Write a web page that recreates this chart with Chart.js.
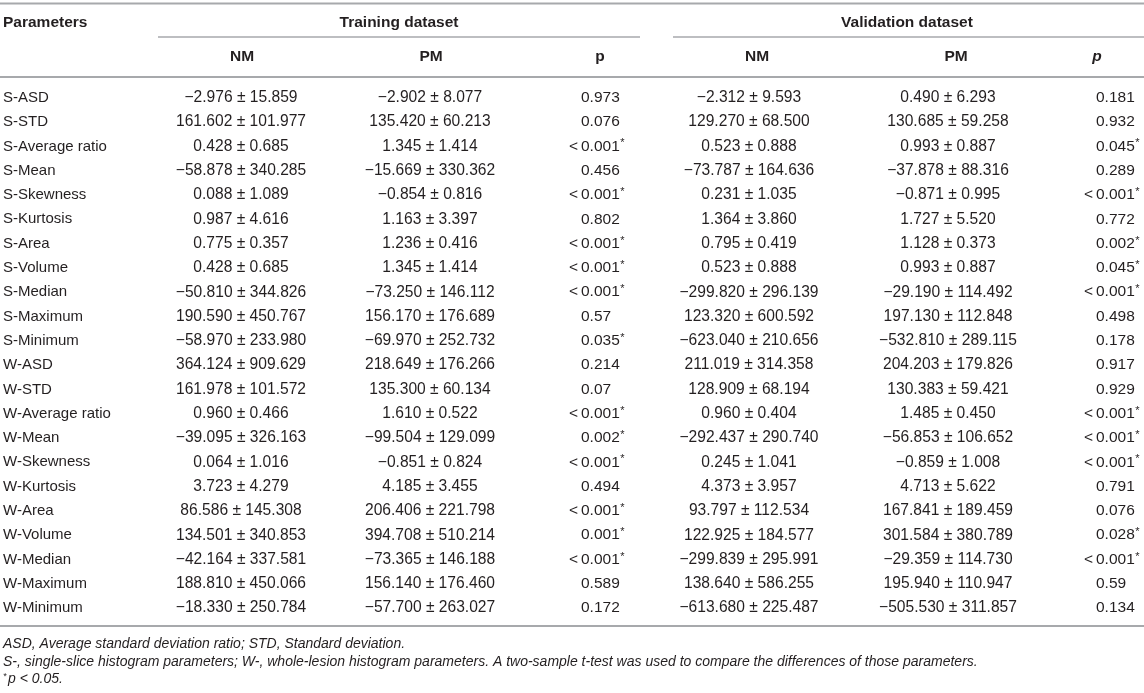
<!DOCTYPE html>
<html>
<head>
<meta charset="utf-8">
<script src="https://cdn.jsdelivr.net/npm/chart.js@4"></script>
<style>
  html, body { margin: 0; padding: 0; background: #fff; }
  #contenedor { width: 1144px; height: 693px; }
</style>
</head>
<body>
<div id="contenedor"><canvas id="tabla"></canvas></div>
<script>
// Filas de la tabla
const parametros = [
  "S-ASD", "S-STD", "S-Average ratio", "S-Mean", "S-Skewness", "S-Kurtosis",
  "S-Area", "S-Volume", "S-Median", "S-Maximum", "S-Minimum",
  "W-ASD", "W-STD", "W-Average ratio", "W-Mean", "W-Skewness", "W-Kurtosis",
  "W-Area", "W-Volume", "W-Median", "W-Maximum", "W-Minimum"
];

// Training dataset
const trainNmMedia = [-2.976, 161.602, 0.428, -58.878, 0.088, 0.987, 0.775, 0.428, -50.810, 190.590, -58.970,
  364.124, 161.978, 0.960, -39.095, 0.064, 3.723, 86.586, 134.501, -42.164, 188.810, -18.330];
const trainNmDe = [15.859, 101.977, 0.685, 340.285, 1.089, 4.616, 0.357, 0.685, 344.826, 450.767, 233.980,
  909.629, 101.572, 0.466, 326.163, 1.016, 4.279, 145.308, 340.853, 337.581, 450.066, 250.784];
const trainPmMedia = [-2.902, 135.420, 1.345, -15.669, -0.854, 1.163, 1.236, 1.345, -73.250, 156.170, -69.970,
  218.649, 135.300, 1.610, -99.504, -0.851, 4.185, 206.406, 394.708, -73.365, 156.140, -57.700];
const trainPmDe = [8.077, 60.213, 1.414, 330.362, 0.816, 3.397, 0.416, 1.414, 146.112, 176.689, 252.732,
  176.266, 60.134, 0.522, 129.099, 0.824, 3.455, 221.798, 510.214, 146.188, 176.460, 263.027];
const trainP = ["0.973", "0.076", "<0.001*", "0.456", "<0.001*", "0.802", "<0.001*", "<0.001*", "<0.001*", "0.57", "0.035*",
  "0.214", "0.07", "<0.001*", "0.002*", "<0.001*", "0.494", "<0.001*", "0.001*", "<0.001*", "0.589", "0.172"];

// Validation dataset
const valNmMedia = [-2.312, 129.270, 0.523, -73.787, 0.231, 1.364, 0.795, 0.523, -299.820, 123.320, -623.040,
  211.019, 128.909, 0.960, -292.437, 0.245, 4.373, 93.797, 122.925, -299.839, 138.640, -613.680];
const valNmDe = [9.593, 68.500, 0.888, 164.636, 1.035, 3.860, 0.419, 0.888, 296.139, 600.592, 210.656,
  314.358, 68.194, 0.404, 290.740, 1.041, 3.957, 112.534, 184.577, 295.991, 586.255, 225.487];
const valPmMedia = [0.490, 130.685, 0.993, -37.878, -0.871, 1.727, 1.128, 0.993, -29.190, 197.130, -532.810,
  204.203, 130.383, 1.485, -56.853, -0.859, 4.713, 167.841, 301.584, -29.359, 195.940, -505.530];
const valPmDe = [6.293, 59.258, 0.887, 88.316, 0.995, 5.520, 0.373, 0.887, 114.492, 112.848, 289.115,
  179.826, 59.421, 0.450, 106.652, 1.008, 5.622, 189.459, 380.789, 114.730, 110.947, 311.857];
const valP = ["0.181", "0.932", "0.045*", "0.289", "<0.001*", "0.772", "0.002*", "0.045*", "<0.001*", "0.498", "0.178",
  "0.917", "0.929", "<0.001*", "<0.001*", "<0.001*", "0.791", "0.076", "0.028*", "<0.001*", "0.59", "0.134"];

const gruposTitulo = ["Training dataset", "Validation dataset"];
const columnasTitulo = ["NM", "PM", "p", "NM", "PM", "p"];
const notas = [
  "ASD, Average standard deviation ratio; STD, Standard deviation.",
  "S-, single-slice histogram parameters; W-, whole-lesion histogram parameters. A two-sample t-test was used to compare the differences of those parameters.",
  "p < 0.05."
];

// Disposición (px en x, unidades de fila en y)
const ANCHO = 1144, PASO = 24.3, FILA0 = 97.8, ALTO = 693;
const yMin = -FILA0 / PASO;
const yMax = yMin + ALTO / PASO;
const enFila = (px) => (px - FILA0) / PASO;

const colX = [241, 430, 581, 749, 948, 1096];      // centro, o borde del "0." en columnas p
const colTipo = ["mdp", "mdp", "p", "mdp", "mdp", "p"];
const tituloX = [242, 431, 600, 757, 956, 1097];
const grupoX = [399, 907];
const grupoLinea = [[158, 640], [673, 1144]];

const COLOR_TEXTO = "#231f20";
const COLOR_LINEA = "#a7a9ac";
const FUENTE = '"Liberation Sans", Arial, Helvetica, sans-serif';

const formato = (v) => v.toFixed(3).replace("-", "\u2212");
const celdas = [
  trainNmMedia.map((m, i) => formato(m) + " \u00b1 " + formato(trainNmDe[i])),
  trainPmMedia.map((m, i) => formato(m) + " \u00b1 " + formato(trainPmDe[i])),
  trainP,
  valNmMedia.map((m, i) => formato(m) + " \u00b1 " + formato(valNmDe[i])),
  valPmMedia.map((m, i) => formato(m) + " \u00b1 " + formato(valPmDe[i])),
  valP
];

// Escribe un valor p alineado por el decimal, con asterisco en superíndice
function escribeP(ctx, x, y, texto) {
  let t = texto;
  const asterisco = t.endsWith("*");
  if (asterisco) t = t.slice(0, -1);
  ctx.font = "15.5px " + FUENTE;
  if (t.startsWith("<")) {
    ctx.textAlign = "right";
    ctx.fillText("<", x - 3, y);
    t = t.slice(1);
  }
  ctx.textAlign = "left";
  ctx.fillText(t, x, y);
  if (asterisco) {
    const w = ctx.measureText(t).width;
    ctx.font = "11px " + FUENTE;
    ctx.fillText("*", x + w + 0.5, y - 3);
  }
}

const tablaPlugin = {
  id: "tabla",
  afterDatasetsDraw(chart) {
    const ctx = chart.ctx;
    const sx = chart.scales.x, sy = chart.scales.y;
    ctx.save();

    // Líneas horizontales
    const linea = (x1, x2, fila, grosor) => {
      ctx.strokeStyle = COLOR_LINEA;
      ctx.lineWidth = grosor;
      ctx.beginPath();
      ctx.moveTo(sx.getPixelForValue(x1), sy.getPixelForValue(fila));
      ctx.lineTo(sx.getPixelForValue(x2), sy.getPixelForValue(fila));
      ctx.stroke();
    };
    linea(0, ANCHO, enFila(3.5), 2);
    grupoLinea.forEach((g) => linea(g[0], g[1], enFila(37), 1.5));
    linea(0, ANCHO, enFila(77), 2);
    linea(0, ANCHO, enFila(626), 2);

    ctx.fillStyle = COLOR_TEXTO;
    ctx.textBaseline = "middle";

    // Encabezados
    ctx.font = "bold 15.5px " + FUENTE;
    ctx.textAlign = "left";
    ctx.fillText("Parameters", sx.getPixelForValue(3), sy.getPixelForValue(enFila(23)));
    ctx.textAlign = "center";
    gruposTitulo.forEach((g, i) => ctx.fillText(g, sx.getPixelForValue(grupoX[i]), sy.getPixelForValue(enFila(23))));
    columnasTitulo.forEach((c, i) => {
      ctx.font = (i === 5 ? "italic bold 15.5px " : "bold 15.5px ") + FUENTE;
      ctx.fillText(c, sx.getPixelForValue(tituloX[i]), sy.getPixelForValue(enFila(57)));
    });

    // Nombres de parámetros
    ctx.font = "15px " + FUENTE;
    ctx.textAlign = "left";
    parametros.forEach((p, i) => ctx.fillText(p, sx.getPixelForValue(3), sy.getPixelForValue(i)));

    // Celdas: cada punto del dataset es una celda
    chart.data.datasets.forEach((ds, d) => {
      chart.getDatasetMeta(d).data.forEach((pt, i) => {
        if (colTipo[d] === "p") {
          escribeP(ctx, pt.x, pt.y, ds.textos[i]);
        } else {
          ctx.font = "15.6px " + FUENTE;
          ctx.textAlign = "center";
          ctx.fillText(ds.textos[i], pt.x, pt.y);
        }
      });
    });

    // Notas al pie
    ctx.font = "italic 14px " + FUENTE;
    ctx.textAlign = "left";
    ctx.fillText(notas[0], sx.getPixelForValue(3), sy.getPixelForValue(enFila(644)));
    ctx.fillText(notas[1], sx.getPixelForValue(3), sy.getPixelForValue(enFila(662)));
    ctx.font = "italic 9px " + FUENTE;
    ctx.fillText("*", sx.getPixelForValue(3), sy.getPixelForValue(enFila(676)));
    ctx.font = "italic 14px " + FUENTE;
    ctx.fillText(notas[2], sx.getPixelForValue(8), sy.getPixelForValue(enFila(679)));

    ctx.restore();
  }
};

const ctx = document.getElementById("tabla").getContext("2d");
const chart = new Chart(ctx, {
  type: "scatter",
  data: {
    datasets: celdas.map((col, c) => ({
      label: columnasTitulo[c],
      data: col.map((_, i) => ({ x: colX[c], y: i })),
      textos: col,
      pointRadius: 0,
      pointHoverRadius: 0
    }))
  },
  options: {
    responsive: true,
    maintainAspectRatio: false,
    animation: false,
    layout: { padding: 0 },
    events: [],
    plugins: {
      legend: { display: false },
      tooltip: { enabled: false }
    },
    scales: {
      x: { type: "linear", display: false, min: 0, max: ANCHO },
      y: { type: "linear", display: false, reverse: true, min: yMin, max: yMax }
    }
  },
  plugins: [tablaPlugin]
});
</script>
</body>
</html>
